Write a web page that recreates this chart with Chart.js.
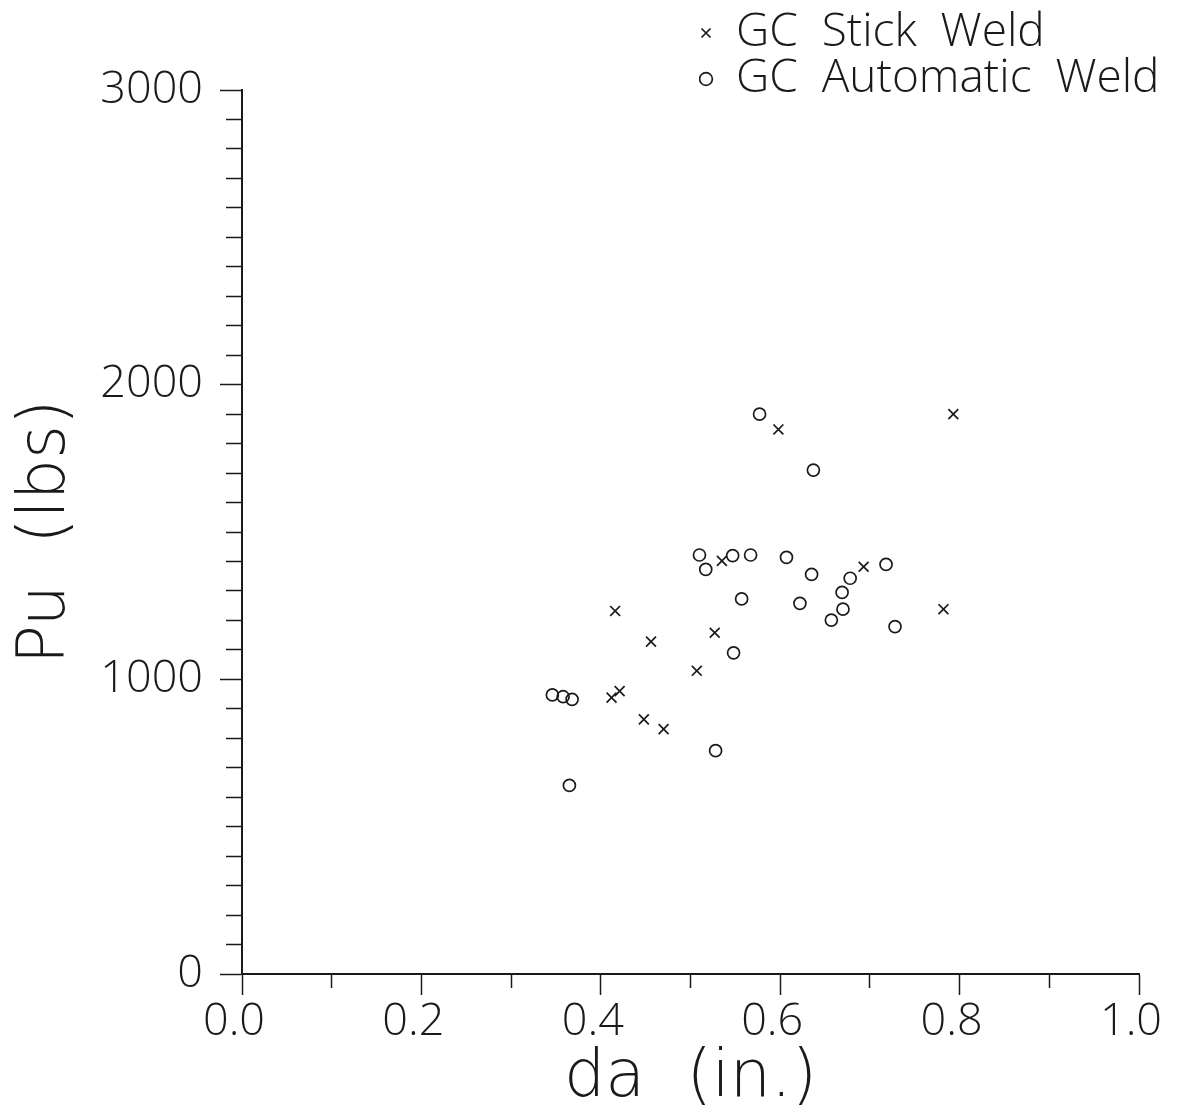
<!DOCTYPE html>
<html>
<head>
<meta charset="utf-8">
<script src="https://cdn.jsdelivr.net/npm/chart.js@4"></script>
<style>
  html, body { margin: 0; padding: 0; background: #ffffff; }
  #wrap { width: 1189px; height: 1120px; position: relative; }
</style>
</head>
<body>
<div id="wrap"><canvas id="c"></canvas></div>
<script>
// ---- data ----
const seriesNames = ['GC  Stick  Weld', 'GC  Automatic  Weld'];
const stickX = [0.416, 0.456, 0.412, 0.421, 0.448, 0.470, 0.507, 0.527, 0.535, 0.598, 0.693, 0.782, 0.793];
const stickY = [1232, 1128, 938, 960, 864, 831, 1029, 1158, 1402, 1848, 1382, 1238, 1900];
const autoX = [0.346, 0.358, 0.368, 0.365, 0.510, 0.517, 0.547, 0.567, 0.557, 0.548, 0.528, 0.577,
               0.607, 0.635, 0.637, 0.622, 0.657, 0.670, 0.669, 0.678, 0.718, 0.728];
const autoY = [947, 941, 932, 640, 1422, 1373, 1420, 1422, 1273, 1090, 758, 1900,
               1414, 1356, 1710, 1258, 1201, 1238, 1295, 1343, 1390, 1179];
const xTickLabels = ['0.0', '0.2', '0.4', '0.6', '0.8', '1.0'];
const yTickLabels = ['0', '1000', '2000', '3000'];
const xTitle = 'da  (in.)';
const yTitle = 'Pu  (lbs)';

const INK = '#1a1a1a';
const FONT = "'Open Sans', 'DejaVu Sans', sans-serif";
const TFONT = "'DejaVu Sans', 'Open Sans', sans-serif";

function pts(xs, ys) { return xs.map((x, i) => ({ x: x, y: ys[i] })); }

const legendPlace = {
  id: 'legendPlace',
  afterLayout(chart) {
    const lg = chart.legend;
    if (!lg) return;
    lg.left = 699;
    lg.right = 1189;
    lg.top = 10;
    lg.bottom = 240;
  }
};

new Chart(document.getElementById('c'), {
  type: 'scatter',
  data: {
    datasets: [
      {
        label: seriesNames[0],
        data: pts(stickX, stickY),
        pointStyle: 'crossRot',
        pointRadius: 7,
        pointBorderWidth: 1.7,
        borderColor: INK,
        backgroundColor: 'rgba(0,0,0,0)',
        pointBorderColor: INK,
        pointBackgroundColor: 'rgba(0,0,0,0)'
      },
      {
        label: seriesNames[1],
        data: pts(autoX, autoY),
        pointStyle: 'circle',
        pointRadius: 6,
        pointBorderWidth: 1.7,
        borderColor: INK,
        backgroundColor: 'rgba(0,0,0,0)',
        pointBorderColor: INK,
        pointBackgroundColor: 'rgba(0,0,0,0)'
      }
    ]
  },
  options: {
    responsive: true,
    maintainAspectRatio: false,
    animation: false,
    events: [],
    layout: { padding: { top: 90, right: 50, left: 0, bottom: 0 } },
    plugins: {
      tooltip: { enabled: false },
      legend: {
        display: true,
        position: 'chartArea',
        align: 'start',
        labels: {
          usePointStyle: true,
          boxWidth: 14,
          boxHeight: 9,
          padding: 0,
          textAlign: 'left',
          color: INK,
          font: { family: FONT, size: 46, weight: '300' }
        }
      }
    },
    scales: {
      x: {
        type: 'linear',
        position: 'bottom',
        min: 0,
        max: 1,
        border: { display: true, color: INK, width: 2 },
        grid: {
          drawOnChartArea: false,
          drawTicks: true,
          tickLength: 21,
          tickWidth: 1.5,
          tickColor: INK,
          tickBorderDash: (ctx) => {
            const v = ctx.tick ? ctx.tick.value : 0;
            return (Math.round(v * 10) % 2 === 1) ? [13, 100] : [];
          }
        },
        ticks: {
          stepSize: 0.1,
          autoSkip: false,
          maxRotation: 0,
          minRotation: 0,
          padding: 0,
          labelOffset: -8,
          color: INK,
          font: { family: FONT, size: 45, weight: '300' },
          callback: (v) => {
            const k = Math.round(v * 10);
            return (k % 2 === 0) ? xTickLabels[k / 2] : '';
          }
        },
        title: {
          display: true,
          text: xTitle,
          color: INK,
          font: { family: TFONT, size: 65, weight: '200' },
          padding: { top: 0, bottom: 2 }
        },
        afterFit: (s) => { s.height = 146; }
      },
      y: {
        type: 'linear',
        position: 'left',
        min: 0,
        max: 3000,
        border: { display: true, color: INK, width: 2 },
        grid: {
          drawOnChartArea: false,
          drawTicks: true,
          tickLength: 22,
          tickWidth: 1.5,
          tickColor: INK,
          tickBorderDash: (ctx) => {
            const v = ctx.tick ? ctx.tick.value : 0;
            return (Math.round(v) % 1000 !== 0) ? [0, 6, 16, 100] : [];
          }
        },
        ticks: {
          stepSize: 100,
          autoSkip: false,
          padding: 17,
          color: INK,
          font: { family: FONT, size: 45, weight: '300' },
          callback: (v) => {
            const r = Math.round(v);
            return (r % 1000 === 0) ? yTickLabels[r / 1000] : '';
          }
        },
        title: {
          display: true,
          text: yTitle,
          color: INK,
          font: { family: TFONT, size: 65, weight: '200' },
          padding: { top: 8, bottom: 0 }
        },
        afterFit: (s) => { s.width = 242; }
      }
    }
  },
  plugins: [legendPlace]
});
</script>
</body>
</html>
